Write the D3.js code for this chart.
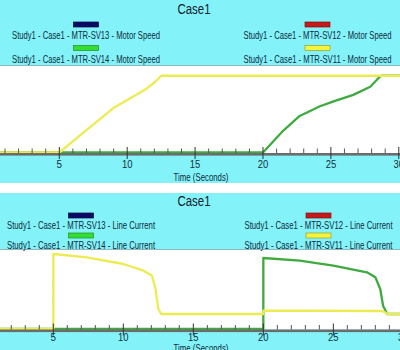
<!DOCTYPE html>
<html>
<head>
<meta charset="utf-8">
<script src="https://cdn.jsdelivr.net/npm/d3@7/dist/d3.min.js"></script>
<style>
  html, body { margin: 0; padding: 0; background: #ffffff; }
  svg { display: block; }
  text { font-family: "Liberation Sans", Arial, sans-serif; }
</style>
</head>
<body>
<svg id="chart" width="400" height="350"></svg>
<script>
// ---- data ----
const chartTitle = "Case1";
const axisTitle = "Time (Seconds)";
const seriesIds = ["MTR-SV13", "MTR-SV12", "MTR-SV14", "MTR-SV11"];
const seriesColors = ["#0b0b66", "#c41a1a", "#33dd33", "#f4f43c"];
const lineColors = { "MTR-SV14": "#3faa3f", "MTR-SV11": "#ecec52" };
const majorTicks = [5, 10, 15, 20, 25, 30];

// Motor speed (rpm) vs time (s)
const speedSV11 = [[0.6, 0], [5, 0], [7, 520], [9, 1040], [9.85, 1190], [11.45, 1490],
  [12.05, 1640], [12.5, 1785], [30.2, 1785]];
const speedSV14 = [[0.6, 0], [20, 0], [21.5, 510], [22.7, 850], [24.2, 1075], [25.2, 1190],
  [26.65, 1340], [27.9, 1530], [28.6, 1760], [28.75, 1785], [30.2, 1785]];

// Line current (A) vs time (s)
const currentSV11 = [[1.1, 0], [5, 0], [5, 750], [7.4, 717], [10, 650], [11.45, 583],
  [12.05, 533], [12.3, 400], [12.5, 200], [12.7, 150], [20, 150], [20, 183],
  [28.5, 180], [28.9, 150], [29.9, 150]];
const currentSV14 = [[1.1, 0], [20, 0], [20, 710], [22.6, 683], [25, 633], [27.4, 567],
  [28, 517], [28.35, 400], [28.55, 233], [28.85, 150], [29.9, 150]];

const panels = [
  { quantity: "Motor Speed", yMax: 2000,
    series: [["MTR-SV14", speedSV14], ["MTR-SV11", speedSV11]],
    top: 0, headBottom: 66, axisY: 153, bottom: 183,
    yRange: [152.5, 66.5], xDomain: [0.633, 30.09],
    titleY: 13.5, swatchY: [22, 45.5], labelY: [39, 63], tickLabelY: 168, axisTitleY: 180.5,
    leftCx: 86, rightCx: 317.5 },
  { quantity: "Line Current", yMax: 800,
    series: [["MTR-SV14", currentSV14], ["MTR-SV11", currentSV11]],
    top: 193, headBottom: 250, axisY: 329.5, bottom: 350,
    yRange: [329, 249], xDomain: [1.193, 29.76],
    titleY: 206, swatchY: [213, 233], labelY: [228.5, 248.5], tickLabelY: 340.5, axisTitleY: 352,
    leftCx: 81, rightCx: 318.5 }
];

const W = 400;
const svg = d3.select("#chart");
svg.append("rect").attr("width", W).attr("height", 350).attr("fill", "#ffffff");

// Places a horizontally condensed text centred on cx, squeezed to the given width.
function narrowText(parent, cx, y, str, size, width, fill) {
  const t = parent.append("text").attr("x", 0).attr("y", 0)
    .attr("text-anchor", "middle").attr("font-size", size).attr("fill", fill).text(str);
  const natural = t.node().getComputedTextLength();
  const s = Math.min(1, width / natural);
  t.attr("transform", `translate(${cx},${y}) scale(${s},1)`);
  return t;
}

panels.forEach(p => {
  const g = svg.append("g");
  const x = d3.scaleLinear().domain(p.xDomain).range([0, W]);
  const y = d3.scaleLinear().domain([0, p.yMax]).range(p.yRange);

  // header band
  g.append("rect").attr("x", 0).attr("y", p.top).attr("width", W)
    .attr("height", p.headBottom - p.top).attr("fill", "#84f3f9");
  g.append("line").attr("x1", 0).attr("x2", W)
    .attr("y1", p.headBottom - 0.5).attr("y2", p.headBottom - 0.5)
    .attr("stroke", "#8fb8bc").attr("stroke-width", 1);
  // band under the axis
  g.append("rect").attr("x", 0).attr("y", p.axisY).attr("width", W)
    .attr("height", p.bottom - p.axisY).attr("fill", "#84f3f9");

  narrowText(g, 194, p.titleY, chartTitle, 15, 33, "#10202c");

  // legend: two columns, two rows
  const legendItems = seriesIds.map((id, i) => ({
    id, color: seriesColors[i],
    col: i % 2, row: Math.floor(i / 2),
    label: "Study1 - Case1 - " + id + " - " + p.quantity
  }));
  legendItems.forEach(d => {
    const cx = d.col ? p.rightCx : p.leftCx;
    g.append("rect")
      .attr("x", cx - 12.5).attr("y", p.swatchY[d.row])
      .attr("width", 25).attr("height", 5)
      .attr("fill", d.color)
      .attr("stroke", d3.color(d.color).darker(1.2)).attr("stroke-width", 0.7);
    narrowText(g, cx, p.labelY[d.row], d.label, 11.2, 148, "#0c2a3c");
  });

  // traces
  const line = d3.line().x(d => x(d[0])).y(d => y(d[1]));
  p.series.forEach(([id, data]) => {
    g.append("path").datum(data).attr("d", line)
      .attr("fill", "none").attr("stroke", lineColors[id])
      .attr("stroke-width", 2.3).attr("stroke-linejoin", "round");
  });

  // time axis
  g.append("rect").attr("x", 0).attr("y", p.axisY).attr("width", W).attr("height", 2.6)
    .attr("fill", "#6c6c6c");
  const minorTicks = d3.range(Math.ceil(p.xDomain[0]), Math.floor(p.xDomain[1]) + 1)
    .filter(t => !majorTicks.includes(t));
  g.selectAll("line.minor").data(minorTicks).enter().append("line")
    .attr("x1", d => x(d)).attr("x2", d => x(d))
    .attr("y1", p.axisY - 4.5).attr("y2", p.axisY)
    .attr("stroke", "#555").attr("stroke-width", 1);
  g.selectAll("line.major").data(majorTicks).enter().append("line")
    .attr("x1", d => x(d)).attr("x2", d => x(d))
    .attr("y1", p.axisY - 6).attr("y2", p.axisY + 6)
    .attr("stroke", "#333").attr("stroke-width", 1);
  majorTicks.forEach(t => {
    narrowText(g, x(t), p.tickLabelY, String(t), 10.5, t >= 10 ? 10.5 : 5.5, "#0c3040");
  });
  narrowText(g, 201, p.axisTitleY, axisTitle, 10.5, 55, "#0c2a3c");
});
</script>
</body>
</html>
